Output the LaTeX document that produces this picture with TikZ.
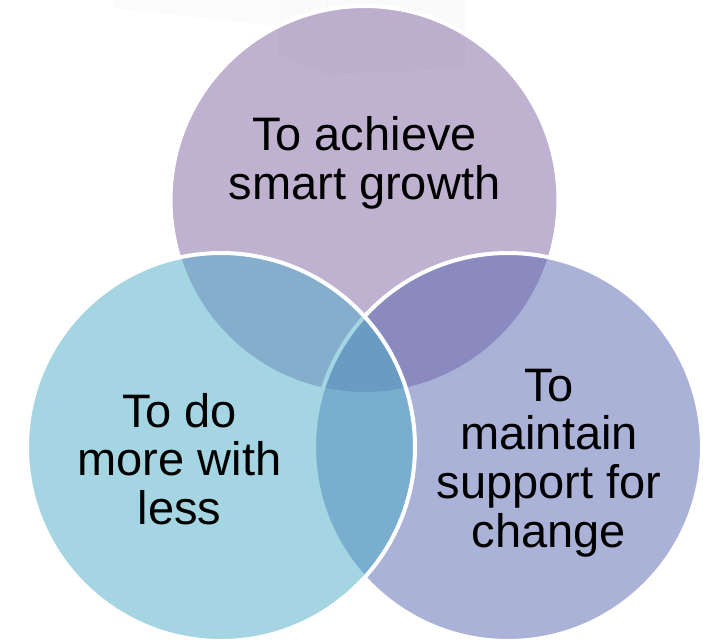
\documentclass[tikz,border=0pt]{standalone}
\usepackage{fontspec}
\setmainfont{Liberation Sans}
\usetikzlibrary{positioning}
\definecolor{growthfill}{HTML}{8064A2}
\definecolor{lessfill}{HTML}{4BACC6}
\definecolor{supportfill}{HTML}{5765B1}

\begin{document}
\begin{tikzpicture}[x=1pt, y=1pt, on grid, line width=2pt,
                    set/.style = {draw=white, circle, fill opacity=0.5,
                        minimum size=194pt, inner sep=0pt},
                    aim/.style = {align=center, text=black,
                        font=\fontsize{23.5}{24.3}\selectfont}]
        \useasboundingbox (0,0) rectangle (351.5,-321.5);

        % faint shapes in the background
        \fill[gray!3] (56.5,0) -- (139,0) -- (139,-13) -- (56.5,-4) -- cycle;
        \fill[gray!4] (139,0) -- (232.5,0) -- (232.5,-34) -- (163.5,-37.5) -- (139,-27) -- cycle;
        \draw[gray!8, line width=0.5pt] (163.5,0) -- (163.5,-37.5);

        \node[set, fill=growthfill] (growth) at (182.25,-100) {};
        \node[set, fill=supportfill] (support) [below right=123.5pt and 71.75pt of growth] {};
        \node[set, fill=lessfill] (less) [below left=123.5pt and 71.75pt of growth] {};

        \node[aim] (growthtext) at ([yshift=18.5pt]growth.center) {To achieve\\smart growth};
        \node[aim] (lesstext) at ([xshift=-20.75pt, yshift=-6pt]less.center) {To do\\more with\\less};
        \node[aim] (supporttext) at ([xshift=20.5pt, yshift=-8pt]support.center) {To\\maintain\\support for\\change};
    \end{tikzpicture}
\end{document}
